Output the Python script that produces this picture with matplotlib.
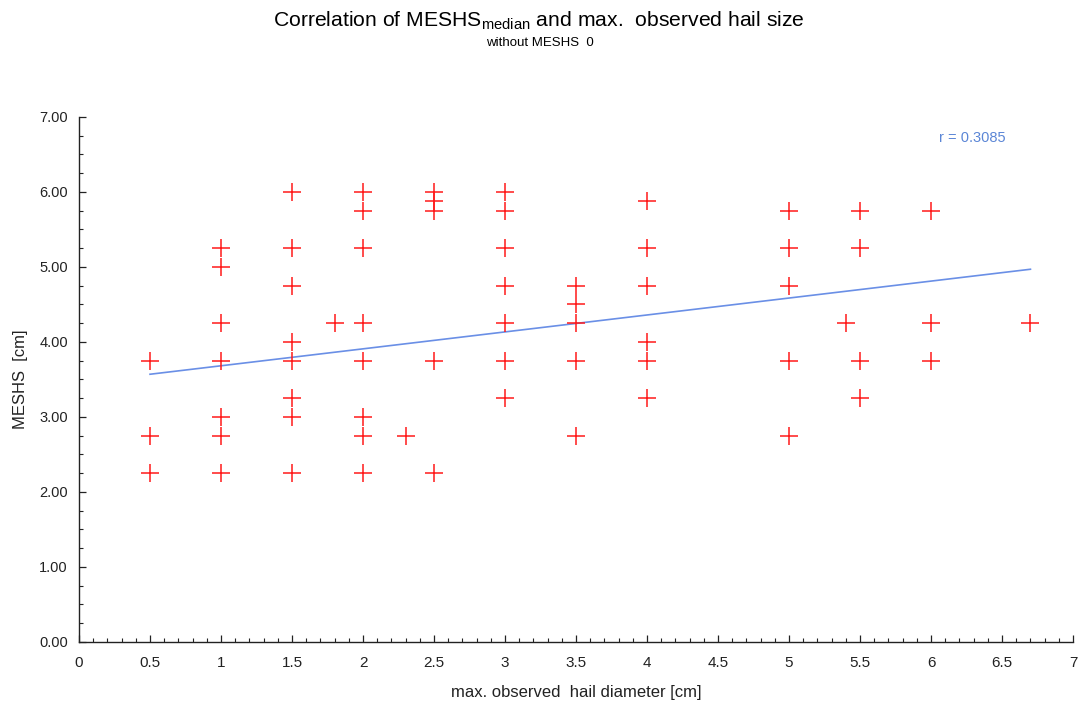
import numpy as np
import matplotlib
matplotlib.use("Agg")
from matplotlib import pyplot as plt
from matplotlib.ticker import MultipleLocator, FormatStrFormatter

plt.rcParams['font.family'] = ['Liberation Sans', 'DejaVu Sans']
plt.rcParams['mathtext.fontset'] = 'custom'
plt.rcParams['mathtext.rm'] = 'Liberation Sans'

# observed hail diameter [cm] and the matching MESHS median [cm]
hail = [0.5, 0.5, 0.5,
        1, 1, 1, 1, 1, 1, 1,
        1.5, 1.5, 1.5, 1.5, 1.5, 1.5, 1.5, 1.5,
        1.8,
        2, 2, 2, 2, 2, 2, 2, 2,
        2.3,
        2.5, 2.5, 2.5, 2.5, 2.5,
        3, 3, 3, 3, 3, 3, 3,
        3.5, 3.5, 3.5, 3.5, 3.5,
        4, 4, 4, 4, 4, 4,
        5, 5, 5, 5, 5,
        5.4,
        5.5, 5.5, 5.5, 5.5,
        6, 6, 6,
        6.7]
meshs = [3.75, 2.75, 2.25,
         5.25, 5.0, 4.25, 3.75, 3.0, 2.75, 2.25,
         6.0, 5.25, 4.75, 4.0, 3.75, 3.25, 3.0, 2.25,
         4.25,
         6.0, 5.75, 5.25, 4.25, 3.75, 3.0, 2.75, 2.25,
         2.75,
         6.0, 5.875, 5.75, 3.75, 2.25,
         6.0, 5.75, 5.25, 4.75, 4.25, 3.75, 3.25,
         4.75, 4.5, 4.25, 3.75, 2.75,
         5.875, 5.25, 4.75, 4.0, 3.75, 3.25,
         5.75, 5.25, 4.75, 3.75, 2.75,
         4.25,
         5.75, 5.25, 3.75, 3.25,
         5.75, 4.25, 3.75,
         4.25]

# regression line (fitted on the full sample) and its correlation
fit_icpt = 3.457
fit_slope = 0.2258
r_text = "r = 0.3085"

xticklabels = ['0', '0.5', '1', '1.5', '2', '2.5', '3', '3.5', '4',
               '4.5', '5', '5.5', '6', '6.5', '7']

hail = np.array(hail)
meshs = np.array(meshs)

fig = plt.figure(figsize=(10.78, 7.09), dpi=100)
ax = fig.add_axes([0.0733, 0.0945, 0.9221, 0.7405])

ax.plot(hail, meshs, '+', color='#ff1a1a', markersize=13.5, markeredgewidth=1.1,
        zorder=3)

xl = np.array([hail.min(), hail.max()])
ax.plot(xl, fit_icpt + fit_slope * xl, color='#6a8fe6', lw=1.2, zorder=2)

ax.text(0.899, 0.96, r_text, transform=ax.transAxes, ha='center',
        va='center', color='#5b86d6', fontsize=10.5)

ax.set_xlim(0, 7)
ax.set_ylim(0, 7)
ax.xaxis.set_minor_locator(MultipleLocator(0.1))
ax.yaxis.set_major_locator(MultipleLocator(1))
ax.yaxis.set_minor_locator(MultipleLocator(0.25))
ax.yaxis.set_major_formatter(FormatStrFormatter('%.2f'))
ax.set_xticks(np.arange(0, 7.01, 0.5))
ax.set_xticklabels(xticklabels, fontsize=11)

for side in ['top', 'right']:
    ax.spines[side].set_visible(False)
for side in ['left', 'bottom']:
    ax.spines[side].set_color('#222222')
    ax.spines[side].set_linewidth(1.0)

ax.tick_params(which='major', direction='in', length=5, width=0.9,
               colors='#222222', pad=10)
ax.tick_params(which='minor', direction='in', length=3, width=0.8,
               colors='#222222')
ax.tick_params(axis='y', pad=8, labelsize=10.5)

ax.set_xlabel('max. observed  hail diameter [cm]', fontsize=12,
              labelpad=11, color='#222222')
ax.set_ylabel('MESHS  [cm]', fontsize=12, labelpad=8, color='#222222')

fig.text(0.5, 0.971, r'Correlation of MESHS$_{\mathrm{median}}$ and max.  observed hail size',
         ha='center', va='center', fontsize=15.2)
fig.text(0.501, 0.940, 'without MESHS  0', ha='center', va='center',
         fontsize=9.5)

fig.savefig('out.png', dpi=100)
